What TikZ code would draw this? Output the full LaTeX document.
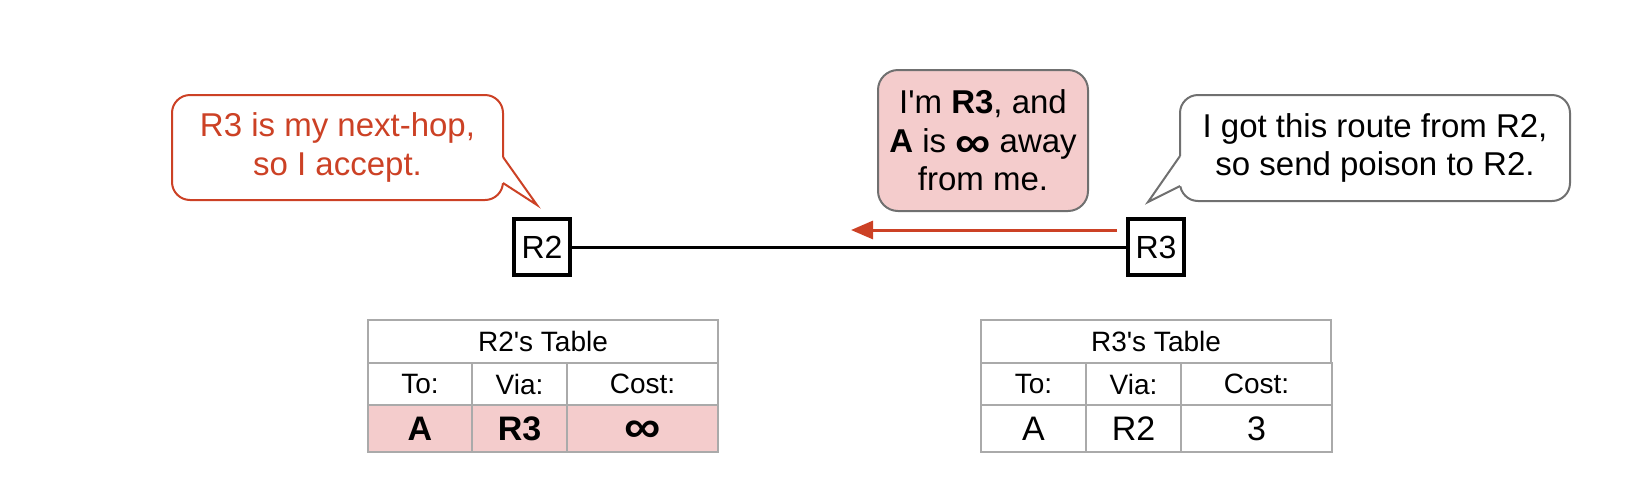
\documentclass[tikz,border=0pt]{standalone}
\usepackage{fontspec}
\usepackage{graphicx}
\setmainfont{Liberation Sans}[Ligatures=TeXOff]
\usetikzlibrary{arrows.meta}
\definecolor{gred}{HTML}{CC4125}
\definecolor{gpink}{HTML}{F4CCCC}
\definecolor{bgray}{HTML}{707070}
\definecolor{tgray}{HTML}{AAAAAA}
\newcommand{\biginf}{\raisebox{-0.15em}[0.55em][0pt]{\scalebox{1.5}[1.35]{\textbf{∞}}}}
\begin{document}
\begin{tikzpicture}[x=0.5pt,y=-0.5pt,
  bubble/.style={draw, rounded corners=9pt, line width=1pt, align=center, inner sep=0pt,
    font=\fontsize{16.5}{19.3}\selectfont},
  router/.style={draw, line width=2pt, minimum size=28pt, inner sep=0pt,
    font=\fontsize{16}{19}\selectfont},
  cell/.style={draw=tgray, line width=1pt, inner sep=0pt, anchor=north west,
    font=\fontsize{14}{16}\selectfont},
  valcell/.style={cell, font=\fontsize{17}{19}\selectfont},
  hdr/.style={cell, minimum width=175pt, minimum height=21.5pt},
  rowb/.style={minimum height=21pt},
  rowc/.style={minimum height=23.5pt},
  c1/.style={minimum width=52pt},
  c2/.style={minimum width=47.5pt},
  c3/.style={minimum width=75.5pt}]
\useasboundingbox (0,0) rectangle (1638,483);

% bubbles
\node[bubble, draw=gred, text=gred, fill=white, minimum width=165.5pt, minimum height=52.5pt]
  (lb) at (337.5,147.5) {R3 is my next-hop,\\so I accept.};
\node[bubble, draw=bgray, fill=gpink, rounded corners=10pt, minimum width=105pt, minimum height=70.5pt]
  (mb) at (983,140.5) {I'm \textbf{R3}, and\\\textbf{A} is \biginf\ away\\from me.};
\node[bubble, draw=bgray, fill=white, minimum width=195pt, minimum height=53pt]
  (rb) at (1375,148) {I got this route from R2,\\so send poison to R2.};

% tails
\coordinate (lt) at (537,205);
\fill[white] (500,157) -- (503,157) -- (lt) -- (503,183) -- (500,183) -- cycle;
\draw[gred, line width=1pt] (503,157) -- (lt) -- (503,183);
\coordinate (rt) at (1148,202);
\fill[white] (1183,156) -- (1180,156) -- (rt) -- (1180,186) -- (1183,186) -- cycle;
\draw[bgray, line width=1pt] (1180,156) -- (rt) -- (1180,186);

% routers and link
\node[router] (r2) at (542,247) {R2};
\node[router] (r3) at (1156,247) {R3};
\draw[line width=1.5pt] (r2) -- (r3);

% poison arrow
\coordinate (as) at (1117,230);
\coordinate (ae) at (851,230);
\draw[gred, line width=1.5pt, -{Triangle[length=11pt,width=9pt]}] (as) -- (ae);

% R2 table
\node[hdr] (t2h) at (367,319) {R2's Table};
\node[cell, c1, rowb] (t2a) at (367,362) {To:};
\node[cell, c2, rowb] (t2b) at (471,362) {Via:};
\node[cell, c3, rowb] (t2c) at (566,362) {Cost:};
\node[valcell, c1, rowc, fill=gpink] (t2d) at (367,404) {\textbf{A}};
\node[valcell, c2, rowc, fill=gpink] (t2e) at (471,404) {\textbf{R3}};
\node[valcell, c3, rowc, fill=gpink] (t2f) at (566,404) {\biginf};

% R3 table
\node[hdr] (t3h) at (980,319) {R3's Table};
\node[cell, minimum width=52.5pt, rowb] (t3a) at (980,362) {To:};
\node[cell, c2, rowb] (t3b) at (1085,362) {Via:};
\node[cell, c3, rowb] (t3c) at (1180,362) {Cost:};
\node[valcell, minimum width=52.5pt, rowc] (t3d) at (980,404) {A};
\node[valcell, c2, rowc] (t3e) at (1085,404) {R2};
\node[valcell, c3, rowc] (t3f) at (1180,404) {3};
\end{tikzpicture}
\end{document}
